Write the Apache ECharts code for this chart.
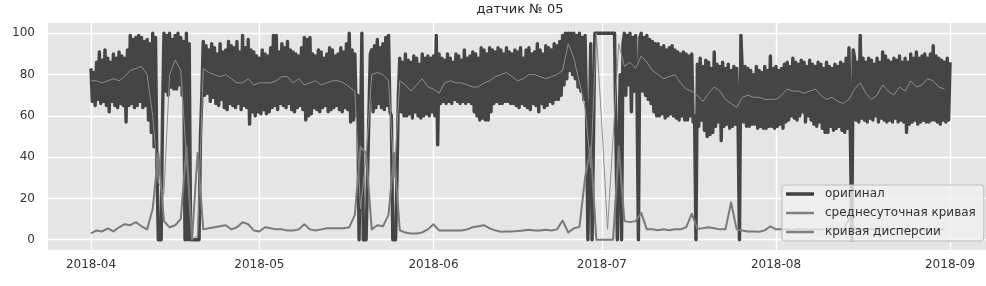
<!DOCTYPE html>
<html><head><meta charset="utf-8">
<script src="https://cdn.jsdelivr.net/npm/echarts@6/dist/echarts.min.js"></script>
<style>html,body{margin:0;padding:0;background:#fff}#c{width:986px;height:286px}</style>
</head><body><div id="c"></div>
<script>
const chartTitle = 'датчик № 05';
const seriesNames = ['оригинал', 'среднесуточная кривая', 'кривая дисперсии'];
const startDate = '2018-04-01';
const originalStepHours = 6;
// original sensor signal, 4 readings per day (6 h step)
const original = [
83,67,81,65, 86,68,91,66, 87,67,92,65, 88,62,86,67, 90,65,88,64,
91,66,89,65, 88,57,92,65, 99,66,97,64, 98,65,99,67, 98,64,96,65,
97,58,95,52, 100,45,98,35, 0,0,0,60, 100,72,99,70, 100,74,97,73,
99,73,100,75, 98,70,96,0, 100,0,95,0, 0,0,0,0, 0,0,50,70,
96,70,94,71, 92,67,95,69, 93,66,90,65, 95,68,91,64, 92,63,96,66,
94,65,93,64, 96,66,91,63, 99,65,93,64, 97,56,92,62, 91,60,89,62,
88,61,92,63, 90,61,89,62, 93,64,99,65, 99,63,91,66, 95,65,93,64,
96,66,92,63, 91,62,90,64, 89,65,93,63, 98,58,97,60, 98,61,90,64,
89,63,92,62, 91,64,88,65, 90,62,93,63, 92,64,89,65, 90,63,93,62,
91,64,95,63, 100,57,92,58, 90,60,70,0, 0,100,0,0, 0,0,60,90,
92,62,94,64, 97,66,93,64, 95,63,98,65, 99,62,60,0, 0,0,30,70,
88,62,86,60, 90,60,87,61, 86,59,89,62, 88,60,85,59, 90,60,88,61,
89,60,88,62, 89,60,99,46, 90,66,88,67, 87,66,90,67, 88,66,86,68,
90,67,89,66, 87,67,92,66, 88,67,89,66, 91,62,90,60, 88,58,93,59,
92,58,90,58, 93,62,92,66, 91,67,93,66, 92,66,90,67, 93,67,91,66,
90,66,92,65, 91,64,93,66, 88,65,92,64, 93,63,90,66, 91,65,95,62,
92,66,90,64, 94,65,93,67, 92,66,95,68, 94,68,96,70, 99,75,100,78,
100,82,100,80, 100,78,99,74, 100,72,98,68, 99,64,0,0, 95,0,0,100,
100,100,100,100, 100,100,100,100, 100,100,100,100, 100,100,100,0, 0,80,0,95,
100,70,99,75, 100,62,98,72, 99,70,0,98, 100,72,98,70, 99,68,97,66,
96,62,95,60, 95,60,93,61, 94,59,92,60, 93,61,94,60, 92,59,91,58,
90,60,91,58, 90,58,89,60, 90,57,60,0, 85,55,88,58, 84,53,87,50,
86,51,83,52, 91,55,85,57, 84,48,86,55, 83,56,85,54, 82,55,84,56,
83,56,0,99, 82,57,84,55, 83,55,82,56, 80,56,84,54, 82,55,81,54,
84,54,82,55, 89,55,83,54, 84,55,82,56, 83,54,85,57, 86,58,84,60,
88,59,86,58, 85,60,87,62, 86,57,84,60, 87,58,85,56, 84,55,86,57,
85,54,83,52, 86,52,84,55, 83,53,85,54, 84,55,86,53, 85,52,88,54,
93,50,0,92, 88,58,86,57, 99,59,88,58, 86,57,88,59, 87,58,85,60,
88,57,86,59, 91,58,89,57, 87,58,86,57, 88,59,87,57, 89,58,86,57,
88,52,86,56, 90,57,88,58, 91,56,88,57, 89,58,90,57, 88,57,90,58,
94,58,89,57, 88,56,87,58, 86,57,88,58, 86
];
// daily mean curve (one value per day)
const dailyMean = [
77,77,76,77,78,77,79,82,83,84,
80,60,28,22,80,87,82,40,0,2,
83,81,80,79,80,78,76,76,78,75,
76,76,76,77,79,79,76,78,75,76,
77,75,76,77,77,76,74,72,15,40,
80,81,80,77,30,77,75,72,75,78,
74,73,71,76,77,76,76,75,74,74,
76,77,79,80,81,79,77,78,80,80,
79,78,79,80,82,95,88,76,64,35,
100,55,5,50,95,84,86,83,89,86,
82,80,78,79,80,76,73,72,70,67,
71,74,72,68,66,64,69,70,69,69,
68,68,68,70,73,72,72,71,72,73,
70,68,69,67,66,68,73,76,71,68,
70,75,72,70,74,72,77,74,75,78,
77,74,73
];
// daily dispersion curve (one value per day)
const dailyDispersion = [
3,4.5,4,5.5,4,6,7.5,7,8.5,6.5,
5,15,42,9,6,7,10,45,0,42,
5,5.5,6,6.5,7,5,6,8.5,7.5,4.5,
4,6,5.5,5,5,4.5,4.5,5,7.5,5,
4.5,5,5.5,5.5,5.5,5.5,6,12,45,42,
5,7,6.5,12,42,4.5,3.5,3,3,3.5,
5,7.5,4.5,4.5,4.5,4.5,4.5,5,6,6.5,
7,5.5,4.5,3.8,4,4,4.2,4.5,4.8,4.5,
4.5,4.8,4.5,5,9.3,3.5,5.5,6.2,30,45,
0,0,0,0,45,9,8.5,9,13,5,
5,4.6,5,4.6,5,5,6,12.6,5.3,5.5,
6,5.5,5,5,18,5,4.5,4,4,3.8,
4.5,6.5,5,5,5,4.8,5,5.2,4.8,5,
5,5.2,4.8,5,5,10,5,5.2,4.8,5,
5,5,4.8,5,5.2,5,4.8,5,5,5.2,
5,4.8,5
];
const xTickLabels = ['2018-04', '2018-05', '2018-06', '2018-07', '2018-08', '2018-09'];
const yTickLabels = [0, 20, 40, 60, 80, 100];

const HOUR = 3600 * 1000, DAY = 24 * HOUR;
const [sy, sm, sd] = startDate.split('-').map(Number);
const t0 = new Date(sy, sm - 1, sd).getTime();
const originalData = original.map((v, i) => [t0 + i * originalStepHours * HOUR, v]);
const meanData = dailyMean.map((v, i) => [t0 + i * DAY, v]);
const dispData = dailyDispersion.map((v, i) => [t0 + i * DAY, v]);
const xTickVals = xTickLabels.map(s => { const [y, m] = s.split('-').map(Number); return new Date(y, m - 1, 1).getTime(); });
const tEnd = originalData[originalData.length - 1][0];
const pad = (tEnd - t0) * 0.05;

const FONT = 'DejaVu Sans';
const chart = echarts.init(document.getElementById('c'), null, { renderer: 'canvas' });
chart.setOption({
  animation: false,
  backgroundColor: '#ffffff',
  graphic: [{
    type: 'text', x: 520, y: 3,
    style: { text: chartTitle, textAlign: 'center', textVerticalAlign: 'top', fontFamily: FONT, fontSize: 13, fill: '#262626' }
  }],
  grid: { left: 48, top: 23, width: 945, height: 227, show: true, backgroundColor: '#e5e5e5', borderWidth: 0,
    containLabel: false, outerBoundsMode: 'none' },
  xAxis: {
    type: 'value', min: t0 - pad, max: tEnd + pad, scale: true,
    axisLine: { show: false },
    axisTick: { show: false, customValues: xTickVals },
    axisLabel: { customValues: xTickVals, margin: 9, fontFamily: FONT, fontSize: 12, color: '#333',
      formatter: v => { const i = xTickVals.indexOf(v); return i >= 0 ? xTickLabels[i] : ''; } },
    splitLine: { show: true, lineStyle: { color: '#ffffff', width: 1.3 } }
  },
  yAxis: {
    type: 'value', min: -5, max: 105,
    axisLine: { show: false },
    axisTick: { show: false, customValues: yTickLabels },
    axisLabel: { customValues: yTickLabels, margin: 13, fontFamily: FONT, fontSize: 12, color: '#333' },
    splitLine: { show: true, lineStyle: { color: '#ffffff', width: 1.3 } }
  },
  legend: {
    orient: 'vertical', left: 782, top: 185,
    itemWidth: 28, itemHeight: 14, itemGap: 7,
    padding: [3, 8, 3, 4],
    backgroundColor: 'rgba(240,240,240,0.8)', borderColor: '#bdbdbd', borderWidth: 1, borderRadius: 3,
    textStyle: { fontFamily: FONT, fontSize: 12, color: '#333', padding: [0, 0, 0, 6] },
    data: [
      { name: seriesNames[0], icon: 'path://M0,0L28,0L28,3.5L0,3.5Z', itemStyle: { color: '#404040' } },
      { name: seriesNames[1], icon: 'path://M0,0L28,0L28,2.5L0,2.5Z', itemStyle: { color: '#7c7c7c' } },
      { name: seriesNames[2], icon: 'path://M0,0L28,0L28,2.5L0,2.5Z', itemStyle: { color: '#808080' } }
    ]
  },
  series: [
    { name: seriesNames[0], type: 'line', data: originalData, symbol: 'none', showSymbol: false,
      lineStyle: { color: '#454545', width: 3.4, join: 'round' }, itemStyle: { color: '#454545' } },
    { name: seriesNames[1], type: 'line', data: meanData, symbol: 'none', showSymbol: false,
      lineStyle: { color: '#8e8e8e', width: 1, join: 'round' }, itemStyle: { color: '#8e8e8e' } },
    { name: seriesNames[2], type: 'line', data: dispData, symbol: 'none', showSymbol: false,
      lineStyle: { color: '#7a7a7a', width: 2, join: 'round' }, itemStyle: { color: '#7a7a7a' } }
  ]
});
</script></body></html>
